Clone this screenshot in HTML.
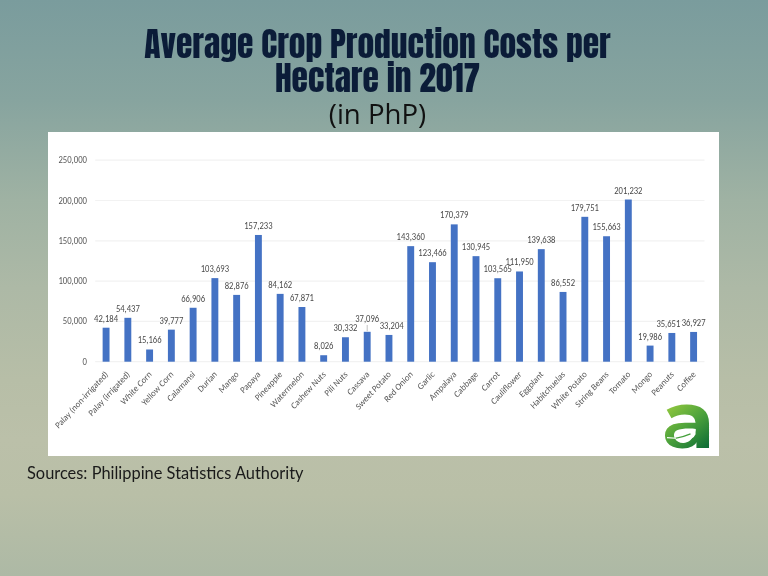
<!DOCTYPE html>
<html><head><meta charset="utf-8"><style>
html,body{margin:0;padding:0;}
body{width:768px;height:576px;overflow:hidden;position:relative;
background:linear-gradient(180deg,#7a9c9d 0px,#87a49f 100px,#9fb2a3 200px,#adb9a6 288px,#b7bea7 380px,#bbc0a9 440px,#b9bfa7 495px,#adb9a5 576px);}
.t{position:absolute;left:0;width:755px;text-align:center;color:#0b1c38;font-family:"Anton","Liberation Sans Narrow","Liberation Sans",sans-serif;font-size:33.5px;line-height:33px;white-space:nowrap;will-change:transform;}
#t1{top:28px;}
#t2{top:61.5px;}
#sub{position:absolute;left:0;width:755px;text-align:center;top:95px;font-family:"Open Sans","Liberation Sans",sans-serif;font-size:27.6px;line-height:36px;color:#111;white-space:nowrap;will-change:transform;}
#chart{position:absolute;left:48px;top:132px;width:671px;height:324px;background:#fff;}
#chart svg{position:absolute;left:0;top:0;will-change:transform;}
.ax{font-family:"Carlito","Liberation Sans",sans-serif;font-size:8.7px;fill:#595959;text-anchor:end;}
.dl{font-family:"Carlito","Liberation Sans",sans-serif;font-size:8.6px;fill:#4a4a4a;text-anchor:middle;}
.cat{font-family:"Carlito","Liberation Sans",sans-serif;font-size:8.6px;fill:#595959;text-anchor:end;}
#src{position:absolute;left:27px;top:462.5px;font-family:"Lato","Liberation Sans",sans-serif;font-size:16.4px;line-height:20px;color:#1a1a1a;white-space:nowrap;will-change:transform;}
</style></head><body>
<div class="t" id="t1">Average Crop Production Costs per</div>
<div class="t" id="t2">Hectare in 2017</div>
<div id="sub">(in PhP)</div>
<div id="chart">
<svg width="671" height="324" viewBox="0 0 671 324">
<defs><linearGradient id="lg" gradientUnits="userSpaceOnUse" x1="4" y1="-43" x2="42" y2="0"><stop offset="0" stop-color="#96ca3e"/><stop offset="0.5" stop-color="#4ea33c"/><stop offset="1" stop-color="#0f6e36"/></linearGradient></defs>
<line x1="47.20" y1="229.70" x2="656.48" y2="229.70" stroke="#f2f2f2" stroke-width="1.2"/>
<text transform="translate(39.00,232.70) scale(1,1.12)" class="ax">0</text>
<line x1="47.20" y1="189.40" x2="656.48" y2="189.40" stroke="#f2f2f2" stroke-width="1.2"/>
<text transform="translate(39.00,192.40) scale(1,1.12)" class="ax">50,000</text>
<line x1="47.20" y1="149.10" x2="656.48" y2="149.10" stroke="#f2f2f2" stroke-width="1.2"/>
<text transform="translate(39.00,152.10) scale(1,1.12)" class="ax">100,000</text>
<line x1="47.20" y1="108.80" x2="656.48" y2="108.80" stroke="#f2f2f2" stroke-width="1.2"/>
<text transform="translate(39.00,111.80) scale(1,1.12)" class="ax">150,000</text>
<line x1="47.20" y1="68.50" x2="656.48" y2="68.50" stroke="#f2f2f2" stroke-width="1.2"/>
<text transform="translate(39.00,71.50) scale(1,1.12)" class="ax">200,000</text>
<line x1="47.20" y1="28.20" x2="656.48" y2="28.20" stroke="#f2f2f2" stroke-width="1.2"/>
<text transform="translate(39.00,31.20) scale(1,1.12)" class="ax">250,000</text>
<rect x="54.63" y="195.70" width="6.9" height="34.00" fill="#4472c4"/>
<text transform="translate(58.08,189.70) scale(1,1.12)" class="dl">42,184</text>
<text class="cat" transform="translate(60.68,242.90) scale(1,1.08) rotate(-45)">Palay (non-irrigated)</text>
<rect x="76.39" y="185.82" width="6.9" height="43.88" fill="#4472c4"/>
<text transform="translate(79.84,179.82) scale(1,1.12)" class="dl">54,437</text>
<text class="cat" transform="translate(82.44,242.90) scale(1,1.08) rotate(-45)">Palay (irrigated)</text>
<rect x="98.15" y="217.48" width="6.9" height="12.22" fill="#4472c4"/>
<text transform="translate(101.60,211.48) scale(1,1.12)" class="dl">15,166</text>
<text class="cat" transform="translate(104.20,242.90) scale(1,1.08) rotate(-45)">White Corn</text>
<rect x="119.91" y="197.64" width="6.9" height="32.06" fill="#4472c4"/>
<text transform="translate(123.36,191.64) scale(1,1.12)" class="dl">39,777</text>
<text class="cat" transform="translate(125.96,242.90) scale(1,1.08) rotate(-45)">Yellow Corn</text>
<rect x="141.67" y="175.77" width="6.9" height="53.93" fill="#4472c4"/>
<text transform="translate(145.12,169.77) scale(1,1.12)" class="dl">66,906</text>
<text class="cat" transform="translate(147.72,242.90) scale(1,1.08) rotate(-45)">Calamansi</text>
<rect x="163.43" y="146.12" width="6.9" height="83.58" fill="#4472c4"/>
<text transform="translate(166.88,140.12) scale(1,1.12)" class="dl">103,693</text>
<text class="cat" transform="translate(169.48,242.90) scale(1,1.08) rotate(-45)">Durian</text>
<rect x="185.19" y="162.90" width="6.9" height="66.80" fill="#4472c4"/>
<text transform="translate(188.64,156.90) scale(1,1.12)" class="dl">82,876</text>
<text class="cat" transform="translate(191.24,242.90) scale(1,1.08) rotate(-45)">Mango</text>
<rect x="206.95" y="102.97" width="6.9" height="126.73" fill="#4472c4"/>
<text transform="translate(210.40,96.97) scale(1,1.12)" class="dl">157,233</text>
<text class="cat" transform="translate(213.00,242.90) scale(1,1.08) rotate(-45)">Papaya</text>
<rect x="228.71" y="161.87" width="6.9" height="67.83" fill="#4472c4"/>
<text transform="translate(232.16,155.87) scale(1,1.12)" class="dl">84,162</text>
<text class="cat" transform="translate(234.76,242.90) scale(1,1.08) rotate(-45)">Pineapple</text>
<rect x="250.47" y="175.00" width="6.9" height="54.70" fill="#4472c4"/>
<text transform="translate(253.92,169.00) scale(1,1.12)" class="dl">67,871</text>
<text class="cat" transform="translate(256.52,242.90) scale(1,1.08) rotate(-45)">Watermelon</text>
<rect x="272.23" y="223.23" width="6.9" height="6.47" fill="#4472c4"/>
<text transform="translate(275.68,217.23) scale(1,1.12)" class="dl">8,026</text>
<text class="cat" transform="translate(278.28,242.90) scale(1,1.08) rotate(-45)">Cashew Nuts</text>
<rect x="293.99" y="205.25" width="6.9" height="24.45" fill="#4472c4"/>
<text transform="translate(297.44,199.25) scale(1,1.12)" class="dl">30,332</text>
<text class="cat" transform="translate(300.04,242.90) scale(1,1.08) rotate(-45)">Pili Nuts</text>
<rect x="315.75" y="199.80" width="6.9" height="29.90" fill="#4472c4"/>
<text transform="translate(319.20,189.50) scale(1,1.12)" class="dl">37,096</text>
<text class="cat" transform="translate(321.80,242.90) scale(1,1.08) rotate(-45)">Cassava</text>
<rect x="337.51" y="202.94" width="6.9" height="26.76" fill="#4472c4"/>
<text transform="translate(343.66,196.94) scale(1,1.12)" class="dl">33,204</text>
<text class="cat" transform="translate(343.56,242.90) scale(1,1.08) rotate(-45)">Sweet Potato</text>
<rect x="359.27" y="114.15" width="6.9" height="115.55" fill="#4472c4"/>
<text transform="translate(362.72,108.15) scale(1,1.12)" class="dl">143,360</text>
<text class="cat" transform="translate(365.32,242.90) scale(1,1.08) rotate(-45)">Red Onion</text>
<rect x="381.03" y="130.19" width="6.9" height="99.51" fill="#4472c4"/>
<text transform="translate(384.48,124.19) scale(1,1.12)" class="dl">123,466</text>
<text class="cat" transform="translate(387.08,242.90) scale(1,1.08) rotate(-45)">Garlic</text>
<rect x="402.79" y="92.37" width="6.9" height="137.33" fill="#4472c4"/>
<text transform="translate(406.24,86.37) scale(1,1.12)" class="dl">170,379</text>
<text class="cat" transform="translate(408.84,242.90) scale(1,1.08) rotate(-45)">Ampalaya</text>
<rect x="424.55" y="124.16" width="6.9" height="105.54" fill="#4472c4"/>
<text transform="translate(428.00,118.16) scale(1,1.12)" class="dl">130,945</text>
<text class="cat" transform="translate(430.60,242.90) scale(1,1.08) rotate(-45)">Cabbage</text>
<rect x="446.31" y="146.23" width="6.9" height="83.47" fill="#4472c4"/>
<text transform="translate(449.76,140.23) scale(1,1.12)" class="dl">103,565</text>
<text class="cat" transform="translate(452.36,242.90) scale(1,1.08) rotate(-45)">Carrot</text>
<rect x="468.07" y="139.47" width="6.9" height="90.23" fill="#4472c4"/>
<text transform="translate(471.52,133.47) scale(1,1.12)" class="dl">111,950</text>
<text class="cat" transform="translate(474.12,242.90) scale(1,1.08) rotate(-45)">Cauliflower</text>
<rect x="489.83" y="117.15" width="6.9" height="112.55" fill="#4472c4"/>
<text transform="translate(493.28,111.15) scale(1,1.12)" class="dl">139,638</text>
<text class="cat" transform="translate(495.88,242.90) scale(1,1.08) rotate(-45)">Eggplant</text>
<rect x="511.59" y="159.94" width="6.9" height="69.76" fill="#4472c4"/>
<text transform="translate(515.04,153.94) scale(1,1.12)" class="dl">86,552</text>
<text class="cat" transform="translate(517.64,242.90) scale(1,1.08) rotate(-45)">Habitchuelas</text>
<rect x="533.35" y="84.82" width="6.9" height="144.88" fill="#4472c4"/>
<text transform="translate(536.80,78.82) scale(1,1.12)" class="dl">179,751</text>
<text class="cat" transform="translate(539.40,242.90) scale(1,1.08) rotate(-45)">White Potato</text>
<rect x="555.11" y="104.24" width="6.9" height="125.46" fill="#4472c4"/>
<text transform="translate(558.56,98.24) scale(1,1.12)" class="dl">155,663</text>
<text class="cat" transform="translate(561.16,242.90) scale(1,1.08) rotate(-45)">String Beans</text>
<rect x="576.87" y="67.51" width="6.9" height="162.19" fill="#4472c4"/>
<text transform="translate(580.32,61.51) scale(1,1.12)" class="dl">201,232</text>
<text class="cat" transform="translate(582.92,242.90) scale(1,1.08) rotate(-45)">Tomato</text>
<rect x="598.63" y="213.59" width="6.9" height="16.11" fill="#4472c4"/>
<text transform="translate(602.08,207.59) scale(1,1.12)" class="dl">19,986</text>
<text class="cat" transform="translate(604.68,242.90) scale(1,1.08) rotate(-45)">Mongo</text>
<rect x="620.39" y="200.97" width="6.9" height="28.73" fill="#4472c4"/>
<text transform="translate(620.34,194.97) scale(1,1.12)" class="dl">35,651</text>
<text class="cat" transform="translate(626.44,242.90) scale(1,1.08) rotate(-45)">Peanuts</text>
<rect x="642.15" y="199.94" width="6.9" height="29.76" fill="#4472c4"/>
<text transform="translate(645.60,193.94) scale(1,1.12)" class="dl">36,927</text>
<text class="cat" transform="translate(648.20,242.90) scale(1,1.08) rotate(-45)">Coffee</text>
<line x1="319.20" y1="193" x2="319.20" y2="199.3" stroke="#a6a6a6" stroke-width="0.7"/>
<text id="logo" transform="translate(613.75,315.5) scale(1.072,1)" x="0" y="0" font-family="Montserrat, Liberation Sans, sans-serif" font-weight="700" font-size="80.5" fill="url(#lg)">a</text>
<path d="M647.9,296.9 C642,296.2 633,296.3 629,298.3 C625.6,300 625.3,303.8 627,306.5 C628.5,309.5 632,311.3 635.7,311 C640,310.7 643.5,307.8 645.1,304.2 C646.6,301.5 647.4,299 647.9,296.9 Z" fill="#fff"/>
<path d="M627.2,306.3 Q635,305.2 642.5,301.9" stroke="#45a03c" stroke-width="1.2" fill="none"/>
<path d="M619,305.6 Q623.5,305.9 628,306.2" stroke="#fff" stroke-width="1.1" fill="none"/>
</svg>
</div>
<div id="src">Sources: Philippine Statistics Authority</div>
</body></html>
